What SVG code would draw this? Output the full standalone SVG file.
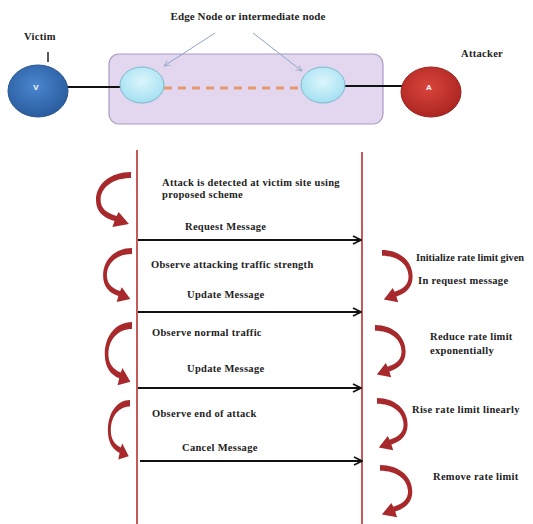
<svg xmlns="http://www.w3.org/2000/svg" xmlns:xlink="http://www.w3.org/1999/xlink" width="533" height="524" viewBox="0 0 533 524">
<style>
  .t { font-family: "Liberation Serif", "Times New Roman", serif; font-weight: bold; font-size: 10.5px; fill: #222; letter-spacing: 0.3px; }
  .title { font-size: 11px; letter-spacing: 0.1px; }
  .lbl { font-family: "Liberation Sans", Arial, sans-serif; font-weight: bold; font-size: 8px; fill: #fff; }
  .life { stroke: #c65a5a; stroke-width: 2; fill: none; }
  .msg { stroke: #111; stroke-width: 2; fill: none; marker-end: url(#arrow); }
  .curve { fill: #a8292c; }
  .link { stroke: #111; stroke-width: 2; }
  .pointer { stroke: #8ea3c9; stroke-width: 1; fill: none; marker-end: url(#thin); }
</style>
<defs>
  <marker id="arrow" viewBox="0 0 10 10" refX="9" refY="5" markerWidth="5" markerHeight="5" markerUnits="strokeWidth" orient="auto">
    <path d="M1,1 L9,5 L1,9" fill="none" stroke="#111" stroke-width="1.6"/>
  </marker>
  <marker id="thin" viewBox="0 0 10 10" refX="9" refY="5" markerWidth="7" markerHeight="7" markerUnits="strokeWidth" orient="auto">
    <path d="M1,1 L9,5 L1,9" fill="none" stroke="#8ea3c9" stroke-width="1"/>
  </marker>
  <radialGradient id="gV" cx="45%" cy="40%" r="60%">
    <stop offset="0" stop-color="#4a86cf"/>
    <stop offset="1" stop-color="#2a5d9f"/>
  </radialGradient>
  <radialGradient id="gA" cx="45%" cy="40%" r="60%">
    <stop offset="0" stop-color="#d9453b"/>
    <stop offset="1" stop-color="#ad2622"/>
  </radialGradient>
  <radialGradient id="gE" cx="50%" cy="40%" r="60%">
    <stop offset="0" stop-color="#dcf6fc"/>
    <stop offset="1" stop-color="#a3e0f1"/>
  </radialGradient>
  <path id="curve" d="M0,0 C-20,0 -34,12 -34,28 C-34,40 -26,46 -16,49 L-18,55 L-2,52 L-12,40 L-14,44 C-24,41 -29.5,36 -29.5,28 C-29.5,15 -17,6 0,6 Z"/>
</defs>

<g id="top">
  <g id="edge-box">
    <rect x="109" y="54" width="274" height="70" rx="10" fill="#e3d6ef" stroke="#ab9cc4" stroke-width="1.2"/>
  </g>
  <g id="connectors-top">
    <line class="link" x1="62" y1="87" x2="121" y2="87"/>
    <line class="link" x1="344" y1="86" x2="404" y2="86"/>
    <line x1="164" y1="88" x2="301" y2="88" stroke="#e59a6e" stroke-width="3" stroke-dasharray="8,6"/>
    <line class="pointer" x1="215" y1="33" x2="164" y2="66"/>
    <line class="pointer" x1="253" y1="33" x2="302" y2="71"/>
  </g>
  <g id="edge-node-1">
    <ellipse cx="142" cy="85" rx="22" ry="18" fill="url(#gE)" stroke="#7fb7cf" stroke-width="1"/>
  </g>
  <g id="edge-node-2">
    <ellipse cx="323" cy="85" rx="22" ry="18" fill="url(#gE)" stroke="#7fb7cf" stroke-width="1"/>
  </g>
  <g id="victim">
    <ellipse cx="38" cy="91" rx="30" ry="26" fill="url(#gV)" stroke="#2a5590" stroke-width="1"/>
    <text class="lbl" x="36" y="90" text-anchor="middle">V</text>
    <text class="t" x="24" y="40">Victim</text>
    <line x1="48" y1="52" x2="48" y2="62" stroke="#222" stroke-width="1.5"/>
  </g>
  <g id="attacker">
    <ellipse cx="431" cy="92" rx="30" ry="25" fill="url(#gA)" stroke="#9a2420" stroke-width="1"/>
    <text class="lbl" x="429" y="90" text-anchor="middle">A</text>
    <text class="t" x="461" y="57">Attacker</text>
  </g>
  <text class="t title" x="248" y="20" text-anchor="middle">Edge Node or intermediate node</text>
</g>

<g id="lifelines">
  <line class="life" x1="137" y1="150" x2="137" y2="524"/>
  <line class="life" x1="362" y1="152" x2="362" y2="524"/>
</g>

<g id="self-arrows">
  <use xlink:href="#curve" class="curve" transform="translate(131,172) scale(1.03,1)"/>
  <use xlink:href="#curve" class="curve" transform="translate(132,248) scale(0.85,0.98)"/>
  <use xlink:href="#curve" class="curve" transform="translate(132,322) scale(0.8,1.15)"/>
  <use xlink:href="#curve" class="curve" transform="translate(130,400) scale(0.65,1.08)"/>
  <use xlink:href="#curve" class="curve" transform="translate(382,250) scale(-0.9,0.95)"/>
  <use xlink:href="#curve" class="curve" transform="translate(375,325) scale(-0.9,0.95)"/>
  <use xlink:href="#curve" class="curve" transform="translate(377,398) scale(-0.9,0.95)"/>
  <use xlink:href="#curve" class="curve" transform="translate(380,465) scale(-0.95,0.95)"/>
</g>

<g id="messages">
  <line class="msg" x1="138" y1="240" x2="361" y2="240"/>
  <line class="msg" x1="138" y1="312" x2="361" y2="312"/>
  <line class="msg" x1="138" y1="388" x2="361" y2="388"/>
  <line class="msg" x1="140" y1="461" x2="362" y2="461"/>
</g>

<g id="texts">
  <text class="t" x="162" y="186">Attack is detected at victim site using</text>
  <text class="t" x="162" y="198">proposed scheme</text>
  <text class="t" x="185" y="230">Request Message</text>
  <text class="t" x="151" y="268">Observe attacking traffic strength</text>
  <text class="t" x="187" y="298">Update Message</text>
  <text class="t" x="152" y="336">Observe normal traffic</text>
  <text class="t" x="187" y="372">Update Message</text>
  <text class="t" x="152" y="417">Observe end of attack</text>
  <text class="t" x="182" y="451">Cancel Message</text>
  <text class="t" x="416" y="261" style="letter-spacing:0" textLength="108" lengthAdjust="spacingAndGlyphs">Initialize rate limit given</text>
  <text class="t" x="418" y="284">In request message</text>
  <text class="t" x="430" y="340">Reduce rate limit</text>
  <text class="t" x="430" y="354">exponentially</text>
  <text class="t" x="412" y="413">Rise rate limit linearly</text>
  <text class="t" x="433" y="480">Remove rate limit</text>
</g>
</svg>
